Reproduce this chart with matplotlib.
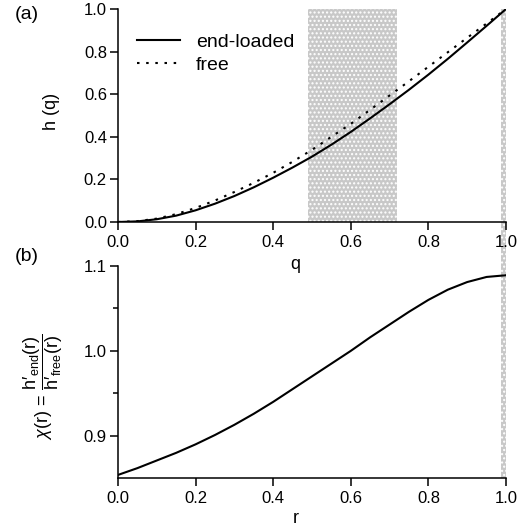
import numpy as np
import matplotlib
matplotlib.use('Agg')
import matplotlib.pyplot as plt

##### DATA #####
# panel (a): profile h(q) for the two cases
q = [0.0, 0.05, 0.1, 0.15, 0.2, 0.25, 0.3, 0.35, 0.4, 0.45, 0.5,
     0.55, 0.6, 0.65, 0.7, 0.75, 0.8, 0.85, 0.9, 0.95, 1.0]
h_end = [0.0, 0.003, 0.013, 0.030, 0.055, 0.086, 0.122, 0.163, 0.208, 0.256, 0.307,
         0.363, 0.423, 0.487, 0.553, 0.621, 0.692, 0.766, 0.843, 0.921, 1.0]
h_free = [0.0, 0.004, 0.016, 0.037, 0.066, 0.101, 0.141, 0.184, 0.231, 0.283, 0.339,
          0.400, 0.461, 0.527, 0.594, 0.661, 0.729, 0.797, 0.865, 0.932, 1.0]

# panel (b): ratio of slopes chi(r)
r = [0.0, 0.05, 0.1, 0.15, 0.2, 0.25, 0.3, 0.35, 0.4, 0.45, 0.5,
     0.55, 0.6, 0.65, 0.7, 0.75, 0.8, 0.85, 0.9, 0.95, 1.0]
chi = [0.854, 0.862, 0.871, 0.880, 0.890, 0.901, 0.913, 0.926, 0.940, 0.955, 0.970,
       0.985, 1.000, 1.016, 1.031, 1.046, 1.060, 1.072, 1.081, 1.087, 1.089]

# shaded q ranges
band_mid = (0.49, 0.718)
band_end = (0.986, 1.0)

##### STYLE #####
plt.rcParams['font.family'] = ['Liberation Sans', 'DejaVu Sans']
plt.rcParams['mathtext.fontset'] = 'custom'
plt.rcParams['mathtext.rm'] = 'Liberation Sans'
plt.rcParams['mathtext.it'] = 'Liberation Sans:italic'
plt.rcParams['axes.linewidth'] = 1.1
plt.rcParams['xtick.major.width'] = 1.1
plt.rcParams['ytick.major.width'] = 1.1
plt.rcParams['ytick.minor.width'] = 1.1
plt.rcParams['xtick.major.size'] = 6
plt.rcParams['ytick.major.size'] = 6
plt.rcParams['ytick.minor.size'] = 3.5

stipple = dict(facecolor='#c8c8c8', edgecolor='white', hatch='....', linewidth=0)

fig = plt.figure(figsize=(5.23, 5.30), dpi=100)
ax1 = fig.add_axes([0.2256, 0.5811, 0.7419, 0.4019])
ax2 = fig.add_axes([0.2256, 0.0975, 0.7419, 0.4008])

for ax in (ax1, ax2):
    ax.patch.set_visible(False)
    ax.spines['top'].set_visible(False)
    ax.spines['right'].set_visible(False)
    ax.tick_params(labelsize=12, pad=2)
    ax.tick_params(axis='x', pad=3)
    ax.set_xlim(0, 1.0)
    ax.set_xticks(np.arange(0, 1.01, 0.2))

# ---- (a) ----
ax1.axvspan(*band_mid, zorder=0, **stipple)
# narrow band at q=1 runs down through both panels
span_low = (ax2.get_position().y0 - ax1.get_position().y0) / ax1.get_position().height
ax1.axvspan(*band_end, ymin=span_low, ymax=1, clip_on=False, zorder=0, **stipple)

ax1.plot(q, h_end, color='black', lw=1.5, label='end-loaded')
ax1.plot(q, h_free, color='black', lw=1.5, dashes=(1.2, 3.2), label='free')
ax1.set_ylim(0, 1.0)
ax1.set_yticks(np.arange(0, 1.01, 0.2))
ax1.xaxis.set_major_formatter(matplotlib.ticker.FormatStrFormatter('%.1f'))
ax1.yaxis.set_major_formatter(matplotlib.ticker.FormatStrFormatter('%.1f'))
ax1.set_xlabel('q', fontsize=13)
ax1.set_ylabel('h (q)', fontsize=13)
ax1.xaxis.set_label_coords(0.457, -0.16)
ax1.yaxis.set_label_coords(-0.15, 0.52)
ax1.legend(loc='upper left', bbox_to_anchor=(0.05, 0.885), frameon=False,
           fontsize=14, handlelength=2.2, handletextpad=0.8, labelspacing=0.25,
           borderpad=0, borderaxespad=0)

# ---- (b) ----
ax2.plot(r, chi, color='black', lw=1.5)
ax2.set_ylim(0.85, 1.1)
ax2.set_yticks([0.9, 1.0, 1.1])
ax2.set_yticks([0.95, 1.05], minor=True)
ax2.xaxis.set_major_formatter(matplotlib.ticker.FormatStrFormatter('%.1f'))
ax2.yaxis.set_major_formatter(matplotlib.ticker.FormatStrFormatter('%.1f'))
ax2.set_xlabel('r', fontsize=13)
ax2.set_ylabel(r"$\chi(\mathrm{r})\,=\,\dfrac{\mathrm{h}\prime_{\mathrm{end}}(\mathrm{r})}"
               r"{\mathrm{h}\prime_{\mathrm{free}}(\mathrm{r})}$", fontsize=13)
ax2.xaxis.set_label_coords(0.457, -0.15)
ax2.yaxis.set_label_coords(-0.137, 0.43)

fig.text(0.028, 0.988, '(a)', fontsize=14, va='top', ha='left')
fig.text(0.028, 0.533, '(b)', fontsize=14, va='top', ha='left')

fig.savefig('out.png', dpi=100)
